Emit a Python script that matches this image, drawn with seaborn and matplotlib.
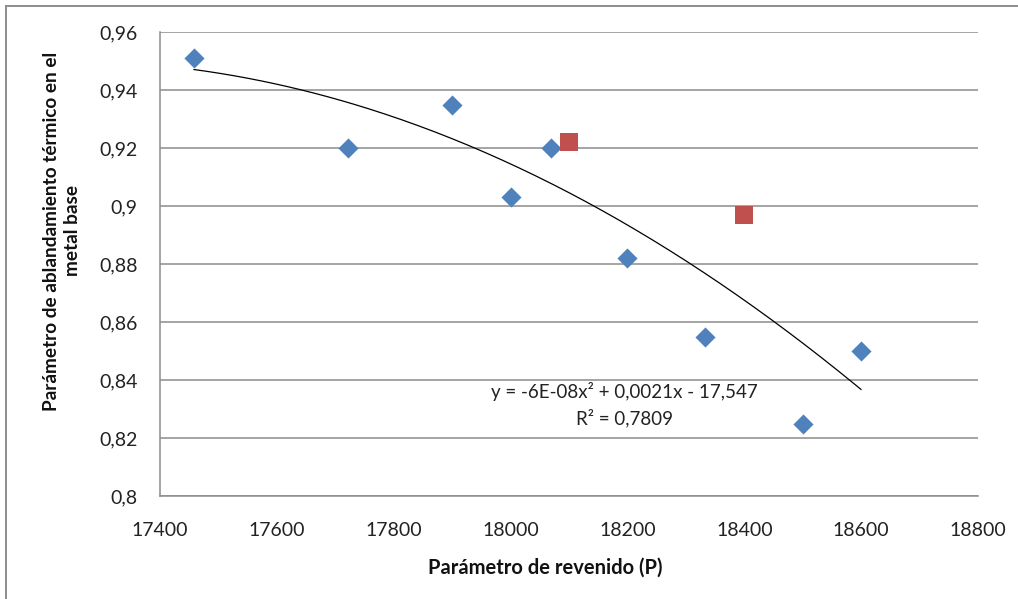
import numpy as np
import pandas as pd
import matplotlib
matplotlib.use("Agg")
import matplotlib.pyplot as plt
from matplotlib.ticker import FuncFormatter, MultipleLocator
from matplotlib.patches import Rectangle
import seaborn as sns

# Measured tempering parameter vs. thermal softening parameter
p_base = [17458, 17722, 17900, 18000, 18070, 18200, 18332, 18500, 18600]
soft_base = [0.951, 0.920, 0.935, 0.903, 0.920, 0.882, 0.855, 0.825, 0.850]

# Additional verification points
p_check = [18100, 18400]
soft_check = [0.922, 0.897]

eq_text = "y = -6E-08x² + 0,0021x - 17,547"
r2_text = "R² = 0,7809"

x_ticks = [17400, 17600, 17800, 18000, 18200, 18400, 18600, 18800]

sns.set_style("white")
plt.rcParams["font.family"] = ["Lato", "DejaVu Sans"]

W, H = 1018, 599
fig = plt.figure(figsize=(W / 100, H / 100), dpi=100)
ax = fig.add_axes([160 / W, 1 - 496 / H, (978 - 160) / W, (496 - 32) / H])

df = pd.DataFrame({
    "P": p_base + p_check,
    "S": soft_base + soft_check,
    "grupo": ["base"] * len(p_base) + ["check"] * len(p_check),
})

blue = "#4F81BD"
red = "#C0504D"
sns.scatterplot(data=df[df.grupo == "base"], x="P", y="S", marker="D", s=105,
                color=blue, edgecolor=blue, linewidth=0, ax=ax, zorder=3)
sns.scatterplot(data=df[df.grupo == "check"], x="P", y="S", marker="s", s=170,
                color=red, edgecolor=red, linewidth=0, ax=ax, zorder=3)

# Second-order polynomial trend line fitted on all points
coef = np.polyfit(df["P"], df["S"], 2)
xs = np.linspace(df["P"].min(), df["P"].max(), 200)
sns.lineplot(x=xs, y=np.polyval(coef, xs), color="black", linewidth=0.9, ax=ax, zorder=2)

ax.set_xlim(17400, 18800)
ax.set_ylim(0.8, 0.96)
ax.set_xticks(x_ticks)
ax.yaxis.set_major_locator(MultipleLocator(0.02))
ax.xaxis.set_major_formatter(FuncFormatter(lambda v, _: f"{v:.0f}"))
ax.yaxis.set_major_formatter(
    FuncFormatter(lambda v, _: (f"{v:.2f}".rstrip("0").rstrip(".")).replace(".", ",")))

ax.grid(axis="y", color="#8C8C8C", linewidth=1.1)
ax.set_axisbelow(True)
for side in ["top", "right"]:
    ax.spines[side].set_visible(False)
for side in ["left", "bottom"]:
    ax.spines[side].set_color("#8C8C8C")
    ax.spines[side].set_linewidth(1.1)
ax.tick_params(axis="both", length=0, labelsize=14, colors="#222222")
ax.tick_params(axis="y", pad=16)
ax.tick_params(axis="x", pad=19)
ax.set_xlabel("")
ax.set_ylabel("")

ax.text(18195, 0.8359, eq_text, ha="center", va="center", fontsize=13.5, color="#222222")
ax.text(18195, 0.8269, r2_text, ha="center", va="center", fontsize=13.5, color="#222222")

fig.text(545 / W, 1 - 568 / H, "Parámetro de revenido (P)", ha="center", va="center",
         fontsize=14.5, fontweight="bold", color="#111111")
fig.text(62 / W, 1 - 231 / H, "Parámetro de ablandamiento térmico en el\nmetal base",
         ha="center", va="center", rotation=90, multialignment="center",
         fontsize=13.7, fontweight="bold", color="#111111", linespacing=1.3)

# Chart frame
fig.patches.append(Rectangle((6 / W, -0.1), 1.2, 1 - 6 / H + 0.1, transform=fig.transFigure,
                             fill=False, edgecolor="#8C8C8C", linewidth=1.4))

fig.savefig("out.png", dpi=100)
